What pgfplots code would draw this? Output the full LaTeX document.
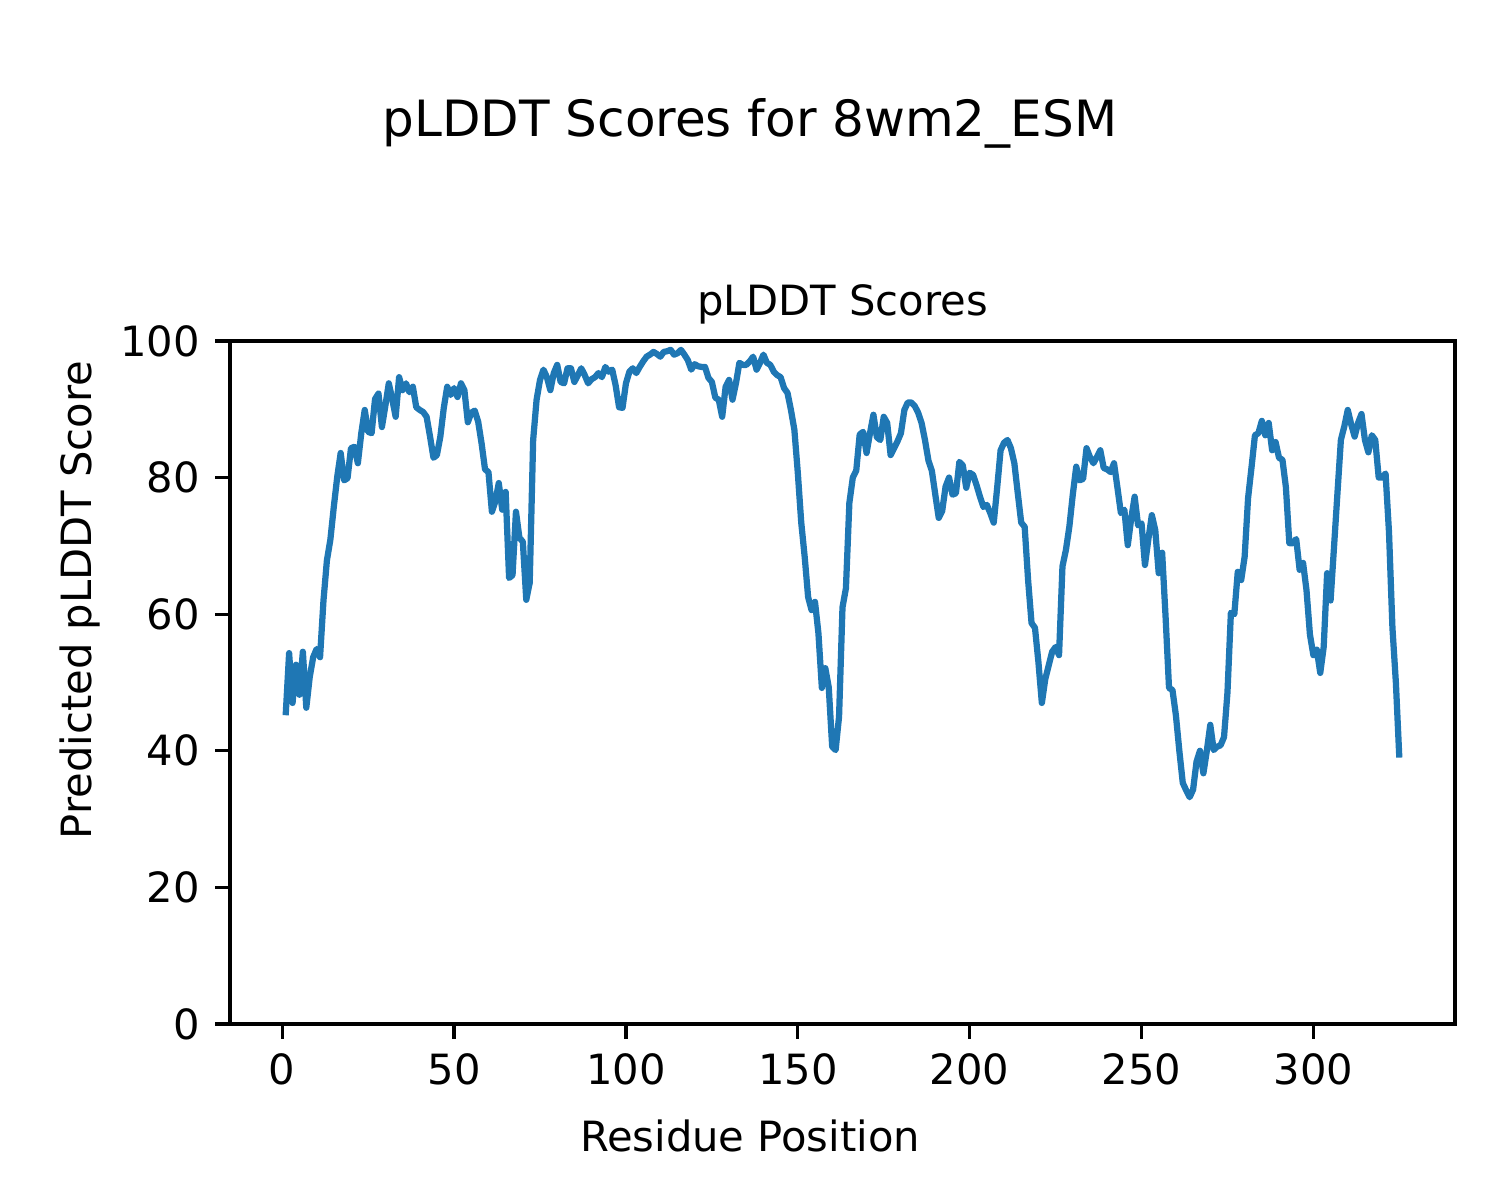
\documentclass[border=0pt]{standalone}
\usepackage{fontspec}
\setmainfont{DejaVu Sans}
\usepackage{pgfplots}
\pgfplotsset{compat=1.18}
\definecolor{mplblue}{HTML}{1F77B4}
\begin{document}
\begin{tikzpicture}
\useasboundingbox (-55.2pt,-42.24pt) rectangle (304.8pt,245.76pt);
\begin{axis}[
    at={(0pt,0pt)}, anchor=south west,
    scale only axis,
    width=294pt, height=163.92pt,
    xmin=-15.2, xmax=341.2,
    ymin=0, ymax=100,
    xtick={0,50,100,150,200,250,300},
    ytick={0,20,40,60,80,100},
    tick align=outside,
    major tick length=3.5pt,
    every tick/.style={black, line width=0.8pt},
    axis line style={line width=0.8pt},
    xtick pos=bottom, ytick pos=left,
    tick label style={font=\fontsize{10}{12}\selectfont},
    /pgf/number format/assume math mode=true,
    xticklabel style={anchor=north, inner sep=0pt, yshift=-3.5pt},
    yticklabel style={anchor=east, inner sep=0pt, xshift=-3.5pt},
    xlabel={Residue Position},
    ylabel={Predicted pLDDT Score},
    label style={font=\fontsize{10}{12}\selectfont},
    xlabel style={at={([xshift=124.8pt]axis description cs:0,0)}, anchor=base, yshift=-30.7pt},
    ylabel style={at={([xshift=-33.3pt,yshift=101.76pt]axis description cs:0,0)}, anchor=base},
    clip=false,
]
% residue index starts at 1
\addplot[mplblue, line width=1.5pt, line join=round, x filter/.expression={x+1}] coordinates {
(0,45.2) (1,54.3) (2,47) (3,52.6) (4,48.2) (5,54.5) (6,46.3) (7,50.8) (8,53.7) (9,54.9)
(10,53.7) (11,62) (12,67.9) (13,70.9) (14,75.7) (15,80.1) (16,83.6) (17,79.6) (18,79.9) (19,84.3)
(20,84.5) (21,82.1) (22,86.5) (23,89.9) (24,86.7) (25,86.5) (26,91.5) (27,92.3) (28,87.4) (29,90.5)
(30,93.8) (31,91.5) (32,88.9) (33,94.7) (34,92.8) (35,93.8) (36,92.5) (37,93.3) (38,90.3) (39,89.9)
(40,89.6) (41,88.9) (42,86) (43,82.9) (44,83.3) (45,86) (46,90.2) (47,93.3) (48,92.1) (49,93.1)
(50,91.8) (51,93.8) (52,92.8) (53,88.1) (54,89.5) (55,89.8) (56,88.2) (57,85) (58,81.2) (59,80.8)
(60,75) (61,76.5) (62,79.2) (63,75.3) (64,77.9) (65,65.3) (66,65.7) (67,75) (68,71.2) (69,70.6)
(70,62.1) (71,64.6) (72,85.5) (73,91.4) (74,94.3) (75,95.8) (76,94.7) (77,92.8) (78,95.3) (79,96.5)
(80,94) (81,93.8) (82,96) (83,96) (84,94) (85,95) (86,96) (87,95) (88,93.8) (89,94.4)
(90,94.7) (91,95.3) (92,94.7) (93,96.2) (94,95.5) (95,95.8) (96,93.5) (97,90.3) (98,90.2) (99,93.8)
(100,95.5) (101,96) (102,95.3) (103,96.2) (104,97) (105,97.7) (106,98) (107,98.4) (108,98.1) (109,97.7)
(110,98.4) (111,98.5) (112,98.7) (113,98) (114,98.2) (115,98.7) (116,98) (117,97.2) (118,95.8) (119,96.6)
(120,96.3) (121,96.2) (122,96.2) (123,94.6) (124,94) (125,91.7) (126,91.4) (127,88.9) (128,93.3) (129,94.3)
(130,91.4) (131,93.8) (132,96.8) (133,96.5) (134,96.5) (135,97) (136,97.7) (137,95.8) (138,96.8) (139,98)
(140,96.8) (141,96.5) (142,95.5) (143,95) (144,94.7) (145,93.1) (146,92.4) (147,89.9) (148,87) (149,80.7)
(150,73.4) (151,68.4) (152,62.5) (153,60.6) (154,61.8) (155,57.2) (156,49.2) (157,52.1) (158,49.3) (159,40.6)
(160,40.1) (161,45) (162,61) (163,63.8) (164,76.3) (165,80) (166,81) (167,86.3) (168,86.7) (169,83.6)
(170,86.5) (171,89.2) (172,85.9) (173,85.5) (174,88.9) (175,88) (176,83.3) (177,84.3) (178,85.3) (179,86.5)
(180,89.9) (181,91) (182,91) (183,90.5) (184,89.5) (185,88) (186,85.5) (187,82.5) (188,81) (189,77.5)
(190,74.1) (191,75.1) (192,78.7) (193,80) (194,77.5) (195,77.7) (196,82.3) (197,81.8) (198,78.5) (199,80.7)
(200,80.4) (201,78.9) (202,77.2) (203,75.7) (204,76) (205,74.8) (206,73.4) (207,78.5) (208,84) (209,85.1)
(210,85.5) (211,84.3) (212,82.1) (213,77.7) (214,73.4) (215,72.8) (216,65) (217,58.7) (218,58) (219,53)
(220,47) (221,50.5) (222,52.5) (223,54.5) (224,55.2) (225,54) (226,67) (227,69.4) (228,72.8) (229,77.5)
(230,81.6) (231,79.6) (232,79.8) (233,84.3) (234,83) (235,82.1) (236,83) (237,84) (238,81.4) (239,81.2)
(240,80.8) (241,82.1) (242,78.5) (243,74.8) (244,75.3) (245,70.1) (246,74) (247,77.2) (248,73) (249,73.3)
(250,67.2) (251,71) (252,74.5) (253,72.3) (254,66) (255,69) (256,59.6) (257,49.2) (258,48.9) (259,45.2)
(260,40) (261,35.3) (262,34.2) (263,33.2) (264,34.3) (265,38.4) (266,40) (267,36.7) (268,40) (269,43.8)
(270,40.1) (271,40.6) (272,40.8) (273,42) (274,48.5) (275,60.2) (276,60) (277,66.2) (278,65) (279,68.4)
(280,77) (281,81.5) (282,86.2) (283,86.5) (284,88.3) (285,86.2) (286,88) (287,84) (288,85.2) (289,82.9)
(290,82.6) (291,78.6) (292,70.4) (293,70.4) (294,71) (295,66.5) (296,67.5) (297,63.5) (298,57) (299,54)
(300,54.8) (301,51.4) (302,55.2) (303,66) (304,62) (305,69.8) (306,77.7) (307,85.5) (308,87.5) (309,89.9)
(310,87.8) (311,86) (312,88) (313,89.3) (314,85.5) (315,83.7) (316,86.2) (317,85.5) (318,80) (319,80)
(320,80.6) (321,72) (322,58) (323,50) (324,39)
};
\node[anchor=base, font=\fontsize{10}{12}\selectfont] at ([yshift=6pt]axis description cs:0.5,1) {pLDDT Scores};
\node[anchor=base, font=\fontsize{12}{14}\selectfont] at ([xshift=124.8pt,yshift=212.9pt]axis description cs:0,0) {pLDDT Scores for 8wm2\_ESM};
\end{axis}
\end{tikzpicture}
\end{document}
